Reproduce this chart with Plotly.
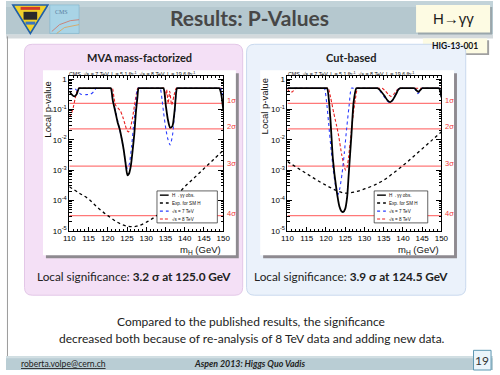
import numpy as np
import plotly.graph_objects as go

W, H = 500, 375
def X(px): return px / W
def Y(py): return 1 - py / H

# ---------------- data (log10 of local p-value) -------------
mva_obs_x = [110.0,110.6,111.3,111.9,112.5,113.0,
             120.3,120.8,121.3,122.0,122.6,123.1,123.6,124.1,124.6,125.1,125.5,126.0,126.5,126.9,127.3,127.7,128.0,128.5,
             134.0,134.5,135.1,135.6,136.2,136.8,137.4,138.0,138.5,
             148.5,149.0,149.5,150.0]
mva_obs_lp = [-0.40,-0.50,-0.57,-0.50,-0.30,-0.30,
              -0.30,-0.30,-0.70,-1.10,-1.45,-1.65,-1.95,-2.30,-2.75,-3.17,-3.12,-2.85,-2.30,-1.80,-1.10,-0.60,-0.30,-0.30,
              -0.30,-0.30,-0.89,-1.32,-1.60,-1.55,-1.00,-0.30,-0.30,
              -0.30,-0.30,-0.50,-1.00]
mva_7_x = [110.0,111.5,112.3,113.0,114.5,115.5,116.3,117.0,117.5,
           120.3,120.8,121.3,122.0,122.8,123.5,124.2,124.7,125.1,125.6,126.2,126.8,127.3,127.8,128.3,
           133.1,133.6,134.1,134.5,135.1,135.6,136.2,136.8,137.4,138.0,138.5,
           148.7,149.2,149.7,150.0]
mva_7_lp = [-0.33,-0.32,-0.42,-0.50,-0.51,-0.50,-0.42,-0.30,-0.30,
            -0.30,-0.30,-0.70,-1.05,-1.50,-1.90,-2.40,-2.80,-2.95,-2.80,-2.20,-1.40,-0.80,-0.30,-0.30,
            -0.30,-0.30,-0.67,-1.10,-1.65,-1.97,-2.17,-1.87,-1.10,-0.30,-0.30,
            -0.30,-0.30,-0.40,-0.55]
mva_8_x = [110.0,110.5,111.0,111.5,112.0,112.4,112.9,
           120.7,121.2,121.6,122.0,122.6,123.3,123.9,124.5,125.0,125.4,125.9,126.4,126.9,127.4,127.8,128.3,
           134.1,134.6,135.0,135.3,135.7,136.1,136.6,137.2,137.8,138.3,
           150.0]
mva_8_lp = [-1.25,-1.15,-0.95,-0.65,-0.40,-0.30,-0.30,
            -0.30,-0.30,-0.60,-0.85,-0.95,-1.05,-1.25,-1.50,-1.70,-1.74,-1.60,-1.30,-0.90,-0.50,-0.30,-0.30,
            -0.30,-0.30,-0.60,-0.35,-0.80,-0.40,-0.85,-0.55,-0.30,-0.30,
            -0.30]
exp_x = [110,112.5,115,117.5,120,122.5,125,127.5,130,132.5,135,137.5,140,142.5,145,147.5,150]
mva_exp_lp = [-3.55,-3.75,-3.95,-4.25,-4.50,-4.72,-4.85,-4.85,-4.72,-4.52,-4.25,-3.90,-3.55,-3.25,-2.95,-2.65,-2.35]

cut_obs_x = [110.0,119.8,120.3,121.1,121.8,122.7,123.5,124.0,124.5,125.0,125.5,125.9,126.6,127.2,127.9,128.4,
             132.9,133.4,134.3,135.2,136.0,136.7,137.4,138.2,138.8,139.3,139.8,
             142.5,143.0,143.6,144.0,144.5,145.0,145.5,
             148.9,149.4,149.8,150.0]
cut_obs_lp = [-0.30,-0.30,-0.30,-1.22,-2.63,-3.61,-4.20,-4.35,-4.38,-4.28,-3.90,-3.17,-1.87,-0.75,-0.30,-0.30,
              -0.30,-0.30,-0.40,-0.55,-0.70,-0.76,-0.68,-0.50,-0.35,-0.30,-0.30,
              -0.30,-0.30,-0.38,-0.42,-0.36,-0.30,-0.30,
              -0.30,-0.30,-0.45,-0.60]
cut_7_x = [110.0,119.1,119.6,120.2,120.8,121.4,122.0,122.6,123.1,123.6,124.2,124.8,125.4,126.0,126.6,127.1,
           132.7,133.2,134.2,135.1,135.9,136.6,137.3,138.1,138.7,139.2,139.7,
           142.5,143.0,143.5,143.9,144.4,145.0,145.5,
           148.9,149.4,149.8,150.0]
cut_7_lp = [-0.30,-0.30,-0.30,-0.80,-1.60,-2.40,-3.10,-3.60,-3.82,-3.60,-3.10,-2.40,-1.60,-0.90,-0.30,-0.30,
            -0.30,-0.30,-0.42,-0.58,-0.72,-0.78,-0.70,-0.50,-0.35,-0.30,-0.30,
            -0.30,-0.30,-0.42,-0.48,-0.40,-0.30,-0.30,
            -0.30,-0.30,-0.45,-0.60]
cut_8_x = [110.0,110.6,111.3,111.9,112.3,112.8,
           120.1,120.6,121.2,122.0,122.7,123.3,124.1,124.7,125.1,125.5,125.9,126.3,126.7,127.1,127.6,128.2,128.7,
           134.1,134.6,135.5,136.3,136.9,137.6,138.3,139.0,139.5,
           150.0]
cut_8_lp = [-0.33,-0.42,-0.42,-0.32,-0.30,-0.30,
            -0.30,-0.30,-0.60,-1.10,-1.50,-1.87,-2.50,-2.85,-3.00,-2.90,-2.55,-2.10,-1.60,-1.15,-0.70,-0.30,-0.30,
            -0.30,-0.30,-0.40,-0.52,-0.57,-0.50,-0.38,-0.30,-0.30,
            -0.30]
cut_exp_lp = [-2.72,-2.92,-3.12,-3.32,-3.50,-3.66,-3.76,-3.72,-3.62,-3.50,-3.33,-3.10,-2.85,-2.58,-2.30,-2.02,-1.74]

sigma_p = [0.1587, 0.02275, 0.00135, 3.167e-5]
sigma_labels = ["1σ", "2σ", "3σ", "4σ"]
x_ticks = [110, 115, 120, 125, 130, 135, 140, 145, 150]
y_ticks = [1e-5, 1e-4, 1e-3, 1e-2, 1e-1, 1]
y_ticktext = ["10<sup>-5</sup>", "10<sup>-4</sup>", "10<sup>-3</sup>", "10<sup>-2</sup>", "10<sup>-1</sup>", "1"]
legend_labels = ["H→γγ obs.", "Exp. for SM H", "√s = 7 TeV", "√s = 8 TeV"]

def P(lp): return list(10 ** np.array(lp))

OBS = dict(color="black", width=1.8)
EXP = dict(color="black", width=1.3, dash="dot")
S7 = dict(color="#2a3cff", width=1.1, dash="dot")
S8 = dict(color="#e82020", width=1.1, dash="3px,2px")
SIG = dict(color="rgb(255,120,120)", width=1.2)

fig = go.Figure()
for (xa, ya, obs, s7, s8, ex) in [
        ("x", "y", (mva_obs_x, mva_obs_lp), (mva_7_x, mva_7_lp), (mva_8_x, mva_8_lp), mva_exp_lp),
        ("x2", "y2", (cut_obs_x, cut_obs_lp), (cut_7_x, cut_7_lp), (cut_8_x, cut_8_lp), cut_exp_lp)]:
    for p in sigma_p:
        fig.add_trace(go.Scatter(x=[110, 150], y=[p, p], mode="lines", line=SIG,
                                 xaxis=xa, yaxis=ya, showlegend=False, hoverinfo="skip"))
    fig.add_trace(go.Scatter(x=exp_x, y=P(ex), mode="lines", line=dict(**EXP, shape="spline"),
                             xaxis=xa, yaxis=ya, showlegend=False))
    fig.add_trace(go.Scatter(x=s8[0], y=P(s8[1]), mode="lines", line=dict(**S8, shape="spline", smoothing=0.6),
                             xaxis=xa, yaxis=ya, showlegend=False))
    fig.add_trace(go.Scatter(x=s7[0], y=P(s7[1]), mode="lines", line=dict(**S7, shape="spline", smoothing=0.6),
                             xaxis=xa, yaxis=ya, showlegend=False))
    fig.add_trace(go.Scatter(x=obs[0], y=P(obs[1]), mode="lines", line=dict(**OBS, shape="spline", smoothing=0.6),
                             xaxis=xa, yaxis=ya, showlegend=False))

TF = dict(family="Liberation Sans, Arial, sans-serif", size=8, color="black")
minor_y = [k * 10.0 ** d for d in range(-5, 0) for k in range(2, 10)]
def xax(dom, anchor):
    return dict(domain=dom, range=[110, 150], tickmode="array", tickvals=x_ticks, ticks="inside",
                ticklen=4, tickwidth=0.8, tickcolor="black", showline=True, linecolor="black",
                linewidth=1, mirror="ticks", showgrid=False, zeroline=False, tickfont=TF, anchor=anchor,
                minor=dict(tickmode="linear", tick0=110, dtick=1, ticks="inside", ticklen=2,
                           tickcolor="black", showgrid=False))
def yax(anchor):
    return dict(domain=[Y(233.5), Y(76)], type="log", range=[-5, 0.11], tickmode="array",
                tickvals=y_ticks, ticktext=y_ticktext, ticks="inside", ticklen=5, tickwidth=0.8,
                tickcolor="black", showline=True, linecolor="black", linewidth=1, mirror="ticks",
                showgrid=False, zeroline=False, tickfont=TF, anchor=anchor,
                minor=dict(tickmode="array", tickvals=minor_y, ticks="inside", ticklen=2.5,
                           tickcolor="black", showgrid=False))

shapes = []
ann = []
def rect(x0, y0, x1, y1, fill, line=None, lw=0, layer="below"):
    shapes.append(dict(type="rect", xref="paper", yref="paper", x0=X(x0), x1=X(x1), y0=Y(y1), y1=Y(y0),
                       fillcolor=fill, line=dict(color=line or fill, width=lw), layer=layer))
def rrect(x0, y0, x1, y1, r, fill, line, lw=1):
    rx, ry = r, r
    pth = (f"M {X(x0+rx)},{Y(y0)} L {X(x1-rx)},{Y(y0)} Q {X(x1)},{Y(y0)} {X(x1)},{Y(y0+ry)} "
           f"L {X(x1)},{Y(y1-ry)} Q {X(x1)},{Y(y1)} {X(x1-rx)},{Y(y1)} L {X(x0+rx)},{Y(y1)} "
           f"Q {X(x0)},{Y(y1)} {X(x0)},{Y(y1-ry)} L {X(x0)},{Y(y0+ry)} Q {X(x0)},{Y(y0)} {X(x0+rx)},{Y(y0)} Z")
    shapes.append(dict(type="path", xref="paper", yref="paper", path=pth, fillcolor=fill,
                       line=dict(color=line, width=lw), layer="below"))
def line(x0, y0, x1, y1, color, width=1, dash=None, layer="above"):
    d = dict(color=color, width=width)
    if dash: d["dash"] = dash
    shapes.append(dict(type="line", xref="paper", yref="paper", x0=X(x0), x1=X(x1), y0=Y(y0), y1=Y(y1),
                       line=d, layer=layer))
def path(pts, fill, color, width, layer="below", close=True):
    s = "M " + " L ".join(f"{X(a)},{Y(b)}" for a, b in pts) + (" Z" if close else "")
    shapes.append(dict(type="path", xref="paper", yref="paper", path=s, fillcolor=fill,
                       line=dict(color=color, width=width), layer=layer))
def text(x, y, s, size, color="black", family="Lato, sans-serif", xanchor="center", angle=0, yanchor="middle"):
    ann.append(dict(x=X(x), y=Y(y), xref="paper", yref="paper", text=s, showarrow=False,
                    font=dict(size=size, color=color, family=family), xanchor=xanchor, yanchor=yanchor,
                    textangle=angle))

# header bar
rect(0, 34, 500, 38, "#d3d9dc")
rect(0, 0, 500, 34, "#b5c8cf")
rect(0, 0, 500, 6, "#c2d3d9")
line(1.5, 36, 1.5, 361, "#9a9a9a", 1, layer="below")
# logos
path([(7, 4), (43, 4), (25, 33)], "#f1d12b", "#1f5fa8", 1.6)
rect(15, 6, 35, 9, "#d23a2a")
rect(18, 11, 32, 19, "#2b2b2b")
rect(20, 21, 30, 24, "#3b74c0")
rect(45, 4, 75, 33, "#a9d4e6", "#7fb3cc", 0.6)
path([(47, 31), (55, 24), (66, 20), (75, 19)], None, "#d07060", 0.8, close=False)
path([(52, 33), (60, 27), (75, 24)], None, "#e0a050", 0.8, close=False)
text(57, 11, "CMS", 6, "#5a7fa0", "Liberation Serif, serif")
text(250, 17, "<b>Results: P-Values</b>", 21, "#474747")
# H->gg and HIG boxes
rect(423, 6, 499, 34, "#9aa6ab")
rect(421, 4, 497, 32, "#fdfbe3")
text(459, 18, "H→γγ", 15, "#1a1a1a", "Liberation Sans, Arial, sans-serif")
rect(430, 40, 496, 55, "#a0a0a0")
rect(428, 38, 494, 53, "#fdfbe3")
text(461, 45.5, "<b>HIG-13-001</b>", 8.5, "#111", "Lato, sans-serif")

# panels
rrect(19, 44, 243, 299, 8, "#f4e0f6", "#e3c7e7", 1)
rrect(247, 44, 472, 299, 8, "#ebf2fb", "#c9d9ee", 1)
text(137, 57, "<b>MVA mass-factorized</b>", 11, "#222")
text(354, 57, "<b>Cut-based</b>", 11, "#222")
# white canvases with shadow
for cx0, cx1 in [(38, 236), (261, 460)]:
    rect(cx0 + 3, 73.5, cx1 + 3, 261.5, "#8e8a90")
    rect(cx0, 70.5, cx1, 258.5, "white")

text(131, 279.5, "Local significance: <b>3.2 σ at 125.0 GeV</b>", 11.8, "#222")
text(354, 279.5, "Local significance: <b>3.9 σ at 124.5 GeV</b>", 11.8, "#222")

PF = "Liberation Sans, Arial, sans-serif"
for x0, xr, ycen, yt in [(63, 223, 110, 42.5), (287, 447, 107, 265)]:
    text(x0, 73.8, "CMS  √s = 7 TeV, L = 5.1 fb<sup>-1</sup>  √s = 8 TeV, L = 19.6 fb<sup>-1</sup>", 5.3,
         "#111", PF, xanchor="left")
    text(yt, ycen, "Local p-value", 9.5, "#111", PF, angle=-90)
    text(xr, 253, "m<sub>H</sub> (GeV)", 9.5, "#111", PF, xanchor="right")

# sigma labels
for ya_ref, xl in [("y", 225), ("y2", 449)]:
    for p, lab in zip(sigma_p, sigma_labels):
        ann.append(dict(x=X(xl), y=float(np.log10(p)) + 0.08, xref="paper", yref=ya_ref, text=lab,
                        showarrow=False, xanchor="left", yanchor="middle",
                        font=dict(size=7.5, color="#f03a3a", family=PF)))

# manual legends
for bx0, bx1, lx0, lx1 in [(155, 217, 158, 167), (378, 433, 381, 390)]:
    rect(bx0, 193, bx1, 225.5, "white", "#222", 0.7, layer="above")
    ys = [197.3, 205.3, 213.5, 221.6]
    styles = [OBS, EXP, S7, S8]
    for yy, st, lab in zip(ys, styles, legend_labels):
        line(lx0, yy, lx1, yy, st["color"], min(st["width"], 1.4), st.get("dash"))
        text(lx1 + 1.5, yy, lab, 4.6, "#111", PF, xanchor="left")

# bottom text
text(252, 326, "Compared to the published results, the significance", 12, "#222")
text(253, 343, "decreased both because of re-analysis of 8 TeV data and adding new data.", 12, "#222")
# footer
rect(0, 361, 500, 375, "#b9cdd4")
rect(0, 361, 500, 363, "#d2dfe3")
text(13, 368.5, "<u>roberta.volpe@cern.ch</u>", 8.6, "#222", xanchor="left")
text(250, 368.5, "<b><i>Aspen 2013: Higgs Quo Vadis</i></b>", 8.8, "#222")
rect(480, 355, 498, 375, "#eaf5fb", "#5d97b1", 1)
text(489, 365.5, "19", 12, "#333")

fig.update_layout(
    width=W, height=H, margin=dict(l=0, r=0, t=0, b=0),
    paper_bgcolor="white", plot_bgcolor="white", showlegend=False,
    xaxis=xax([X(65), X(223)], "y"), yaxis=yax("x"),
    xaxis2=xax([X(289), X(447)], "y2"), yaxis2=yax("x2"),
    shapes=shapes, annotations=ann,
)
fig.write_html("out.html", config={"displayModeBar": False},
               post_script="document.body.style.margin='0';document.body.style.padding='0';document.body.style.overflow='hidden';")
